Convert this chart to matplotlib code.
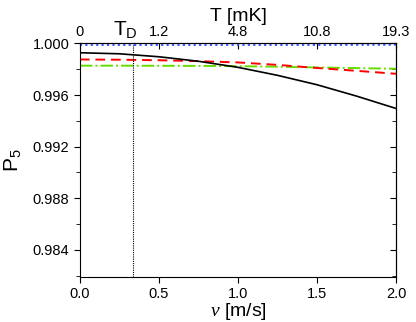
import numpy as np
import matplotlib
matplotlib.use("Agg")
from matplotlib import pyplot as plt

plt.rcParams['font.family'] = ['Liberation Sans', 'DejaVu Sans']
plt.rcParams['mathtext.fontset'] = 'custom'
plt.rcParams['mathtext.rm'] = 'Liberation Sans'
plt.rcParams['mathtext.it'] = 'Liberation Serif:italic'

# velocity [m/s] and fidelity curves
v = [0.0, 0.25, 0.5, 0.75, 1.0, 1.25, 1.5, 1.75, 2.0]
p_black = [0.99928, 0.99920, 0.99897, 0.99862, 0.99815, 0.99753, 0.99680, 0.99592, 0.99496]
p_red = [0.99876, 0.99874, 0.99870, 0.99863, 0.99853, 0.99834, 0.99810, 0.99788, 0.99765]
p_green = [0.99828, 0.99828, 0.99827, 0.99826, 0.99824, 0.99820, 0.99814, 0.99809, 0.99804]
p_blue = [0.99988, 0.99988, 0.99988, 0.99988, 0.99988, 0.99988, 0.99988, 0.99989, 0.99990]

v_D = 1 / 3
top_ticks = [0, 0.5, 1.0, 1.5, 2.0]
top_labels = ["0", "1.2", "4.8", "10.8", "19.3"]

fig = plt.figure(figsize=(4.16, 3.22), dpi=100)
ax = fig.add_axes([0.192, 0.14, 0.76, 0.725])

ax.plot(v, p_blue, color='#2d4dff', ls=(0, (1.2, 1.8)), lw=1.3)
ax.plot(v, p_green, color='#66dd00', ls='-.', lw=1.4)
ax.plot(v, p_red, color='#ff0000', ls=(0, (5, 3)), lw=1.4)
ax.plot(v, p_black, color='black', lw=1.2)
ax.axvline(v_D, color='black', ls=(0, (1, 1)), lw=0.8)

ax.set_xlim(0, 2.0)
ax.set_ylim(0.9819, 1.0)
ax.set_xticks([0, 0.5, 1.0, 1.5, 2.0])
ax.set_xticklabels(["0.0", "0.5", "1.0", "1.5", "2.0"])
ax.set_yticks([0.984, 0.988, 0.992, 0.996, 1.000])
ax.set_yticklabels(["0.984", "0.988", "0.992", "0.996", "1.000"])
ax.set_yticks(np.arange(0.982, 1.0001, 0.002), minor=True)
ax.tick_params(axis='both', direction='out', labelsize=10.5, length=4)
ax.tick_params(axis='y', which='minor', direction='out', length=3)
ax.set_xlabel("$v$ [m/s]", fontsize=14, labelpad=0)
ax.set_ylabel("P$_{5}$", fontsize=15, labelpad=7)

right = ax.secondary_yaxis('right')
right.set_yticks([0.984, 0.988, 0.992, 0.996, 1.000])
right.set_yticks(np.arange(0.982, 1.0001, 0.002), minor=True)
right.tick_params(direction='in', labelright=False, length=4)
right.tick_params(which='minor', direction='in', length=3)

top = ax.secondary_xaxis('top')
top.set_xticks(top_ticks)
top.set_xticklabels(top_labels)
top.tick_params(direction='in', labelsize=10.5, length=4, pad=3)
top.set_xlabel("T [mK]", fontsize=14, labelpad=3)
ax.text(v_D - 0.045, 1.0 + 0.0003, "T$_{\\rm D}$", fontsize=15, ha='center', va='bottom')

fig.savefig("out.png", dpi=100)
